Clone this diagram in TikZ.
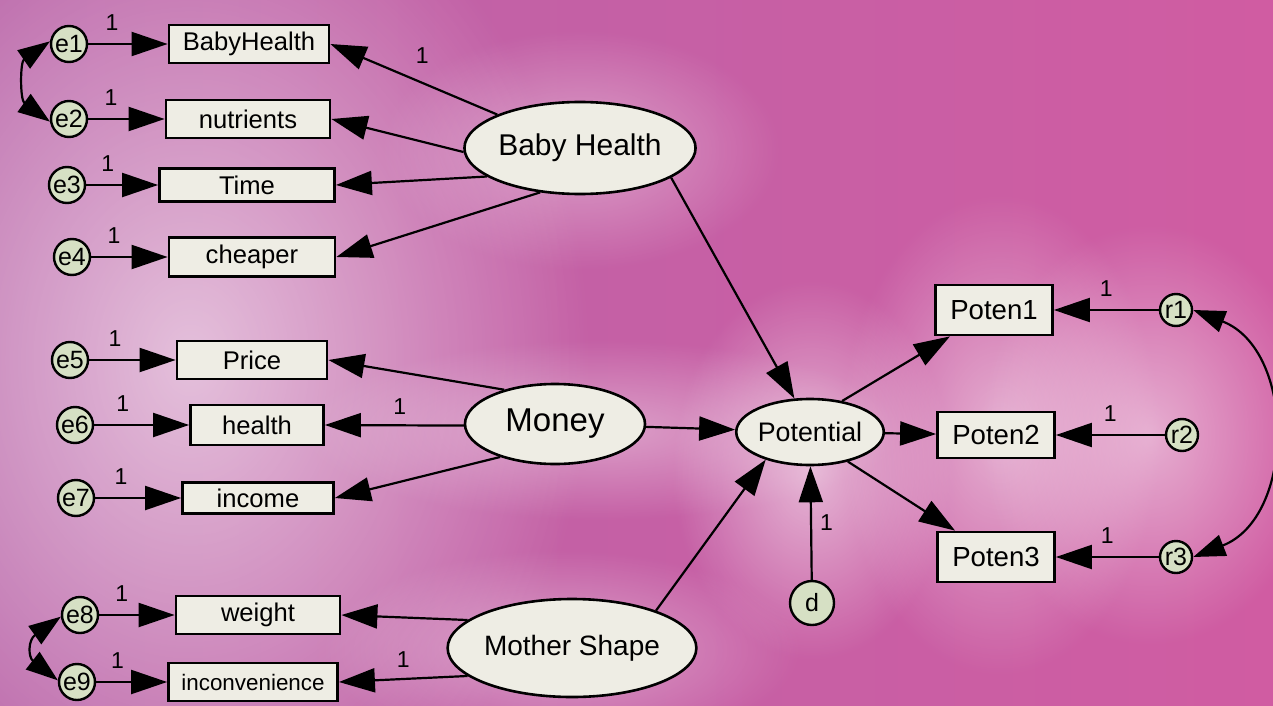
\documentclass[tikz,border=0pt]{standalone}
\usepackage{fontspec}
\setmainfont{Liberation Sans}
\usetikzlibrary{arrows.meta,shapes.geometric,fadings}

\definecolor{bgleft}{RGB}{186,100,168}
\definecolor{bgright}{RGB}{208,92,162}
\definecolor{boxfill}{RGB}{238,237,228}
\definecolor{errfill}{RGB}{214,224,196}
\tikzfading[name=softglow, inner color=transparent!0, outer color=transparent!100]

\begin{document}
\begin{tikzpicture}[x=0.5pt,y=-0.5pt,
    obsbox/.style={draw,line width=1.4pt,fill=boxfill,inner sep=0pt,
      minimum height=19pt,font=\fontsize{12.8}{13}\selectfont},
    latent/.style={draw,ellipse,line width=1.3pt,fill=boxfill,inner sep=0pt},
    errc/.style={draw,circle,line width=1.2pt,fill=errfill,inner sep=0pt,
      minimum size=18pt,font=\fontsize{12.5}{13}\selectfont},
    one/.style={font=\fontsize{11.5}{12}\selectfont,inner sep=1pt},
    arr/.style={line width=1.1pt,-{Triangle[length=18pt,width=12pt]}},
    cov/.style={line width=1.1pt,{Triangle[length=16pt,width=11pt]}-{Triangle[length=16pt,width=11pt]}}]
  \useasboundingbox (0,0) rectangle (1273,706);
  % background with soft light halos
  \shade[left color=bgleft,right color=bgright] (0,0) rectangle (1273,706);
  \fill[white,opacity=.6,path fading=softglow] (190,360) ellipse [x radius=400,y radius=520];
  \fill[white,opacity=.4,path fading=softglow] (580,150) ellipse [x radius=200,y radius=120];
  \fill[white,opacity=.4,path fading=softglow] (600,430) ellipse [x radius=300,y radius=90];
  \fill[white,opacity=.55,path fading=softglow] (812,470) ellipse [x radius=140,y radius=190];
  \fill[white,opacity=.5,path fading=softglow] (1000,435) ellipse [x radius=160,y radius=240];
  \fill[white,opacity=.5,path fading=softglow] (1150,435) ellipse [x radius=170,y radius=210];
  \fill[white,opacity=.4,path fading=softglow] (560,650) ellipse [x radius=240,y radius=100];

  % latent variables
  \node[latent,minimum width=112pt,minimum height=46pt,font=\fontsize{15}{15}\selectfont] (bh) at (580,148) {Baby Health};
  \node[latent,minimum width=90pt,minimum height=40pt,font=\fontsize{16.5}{17}\selectfont] (money) at (555,424) {Money};
  \node[latent,minimum width=113pt,minimum height=49pt,font=\fontsize{14}{14}\selectfont] (ms) at (572,648) {Mother Shape};
  \node[latent,minimum width=71pt,minimum height=33pt,font=\fontsize{13.4}{13}\selectfont] (pot) at (810,432) {Potential};

  % observed variables
  \node[obsbox,minimum width=80pt] (bhealth) at (249,44) {BabyHealth};
  \node[obsbox,minimum width=82pt] (nutr) at (248,119) {nutrients};
  \node[obsbox,minimum width=87.5pt,minimum height=16.5pt] (time) at (247,185) {Time};
  \node[obsbox,minimum width=83pt,minimum height=19.5pt] (cheap) at (252,257) {cheaper};
  \node[obsbox,minimum width=75pt] (price) at (252,360) {Price};
  \node[obsbox,minimum width=66.5pt,minimum height=20pt] (hlth) at (257,425) {health};
  \node[obsbox,minimum width=75.5pt,minimum height=15.5pt] (income) at (258,498) {income};
  \node[obsbox,minimum width=82pt] (weight) at (258,615) {weight};
  \node[obsbox,minimum width=84.5pt,font=\fontsize{11.2}{11}\selectfont] (inconv) at (253,682) {inconvenience};
  \node[obsbox,minimum width=58.5pt,minimum height=25pt,font=\fontsize{13.8}{14}\selectfont] (poten1) at (994,310) {Poten1};
  \node[obsbox,minimum width=58.5pt,minimum height=23pt,font=\fontsize{13.8}{14}\selectfont] (poten2) at (996,435) {Poten2};
  \node[obsbox,minimum width=58.5pt,minimum height=25pt,font=\fontsize{13.8}{14}\selectfont] (poten3) at (996,557) {Poten3};

  % error terms
  \node[errc] (e1) at (69,44) {e1};
  \node[errc] (e2) at (69,119) {e2};
  \node[errc] (e3) at (67,185) {e3};
  \node[errc] (e4) at (72,257) {e4};
  \node[errc] (e5) at (70,360) {e5};
  \node[errc] (e6) at (75,425) {e6};
  \node[errc] (e7) at (76,498) {e7};
  \node[errc] (e8) at (80,615) {e8};
  \node[errc] (e9) at (77,682) {e9};
  \node[errc,minimum size=16pt] (r1) at (1176,310) {r1};
  \node[errc,minimum size=16pt] (r2) at (1182,435) {r2};
  \node[errc,minimum size=16pt] (r3) at (1176,557) {r3};
  \node[errc,minimum size=22pt] (d) at (812,603) {d};

  \foreach \e/\v in {e1/bhealth,e2/nutr,e3/time,e4/cheap,e5/price,e6/hlth,e7/income,e8/weight,e9/inconv}
    \draw[arr] (\e) -- (\v) node[one,pos=.3,above=5pt]{1};
  \foreach \r/\v in {r1/poten1,r2/poten2,r3/poten3}
    \draw[arr] (\r) -- (\v) node[one,pos=.5,above=5pt]{1};

  % loadings
  \draw[arr] (bh.158) -- (bhealth.east) node[one,pos=.45,above=8pt]{1};
  \draw[arr] (bh.182) -- (nutr.east);
  \draw[arr] (bh.197) -- (time.east);
  \draw[arr] (bh.228) -- (cheap.east);
  \draw[arr] (money.146) -- (price.east);
  \draw[arr] (money.181) -- (hlth.east) node[one,pos=.46,above=4pt]{1};
  \draw[arr] (money.211) -- (income.east);
  \draw[arr] (ms.165) -- (weight.east);
  \draw[arr] (ms.195) -- (inconv.east) node[one,pos=.5,above=4pt]{1};

  % structural paths
  \draw[arr] (bh.342) -- (pot.115);
  \draw[arr] (money) -- (pot);
  \draw[arr] (ms.24) -- (pot.212);
  \draw[arr] (d) -- (pot) node[one,pos=.5,right=3pt]{1};
  \draw[arr] (pot.44) -- (poten1);
  \draw[arr] (pot) -- (poten2);
  \draw[arr] (pot.322) -- (poten3);

  % covariances
  \draw[cov] (e1.172) .. controls (20,62) and (20,100) .. (e2.188);
  \draw[cov] (e8.185) .. controls (28,640) and (28,657) .. (e9.175);
  \draw[cov] (r1.east) .. controls (1296,350) and (1296,517) .. (r3.east);
\end{tikzpicture}
\end{document}
